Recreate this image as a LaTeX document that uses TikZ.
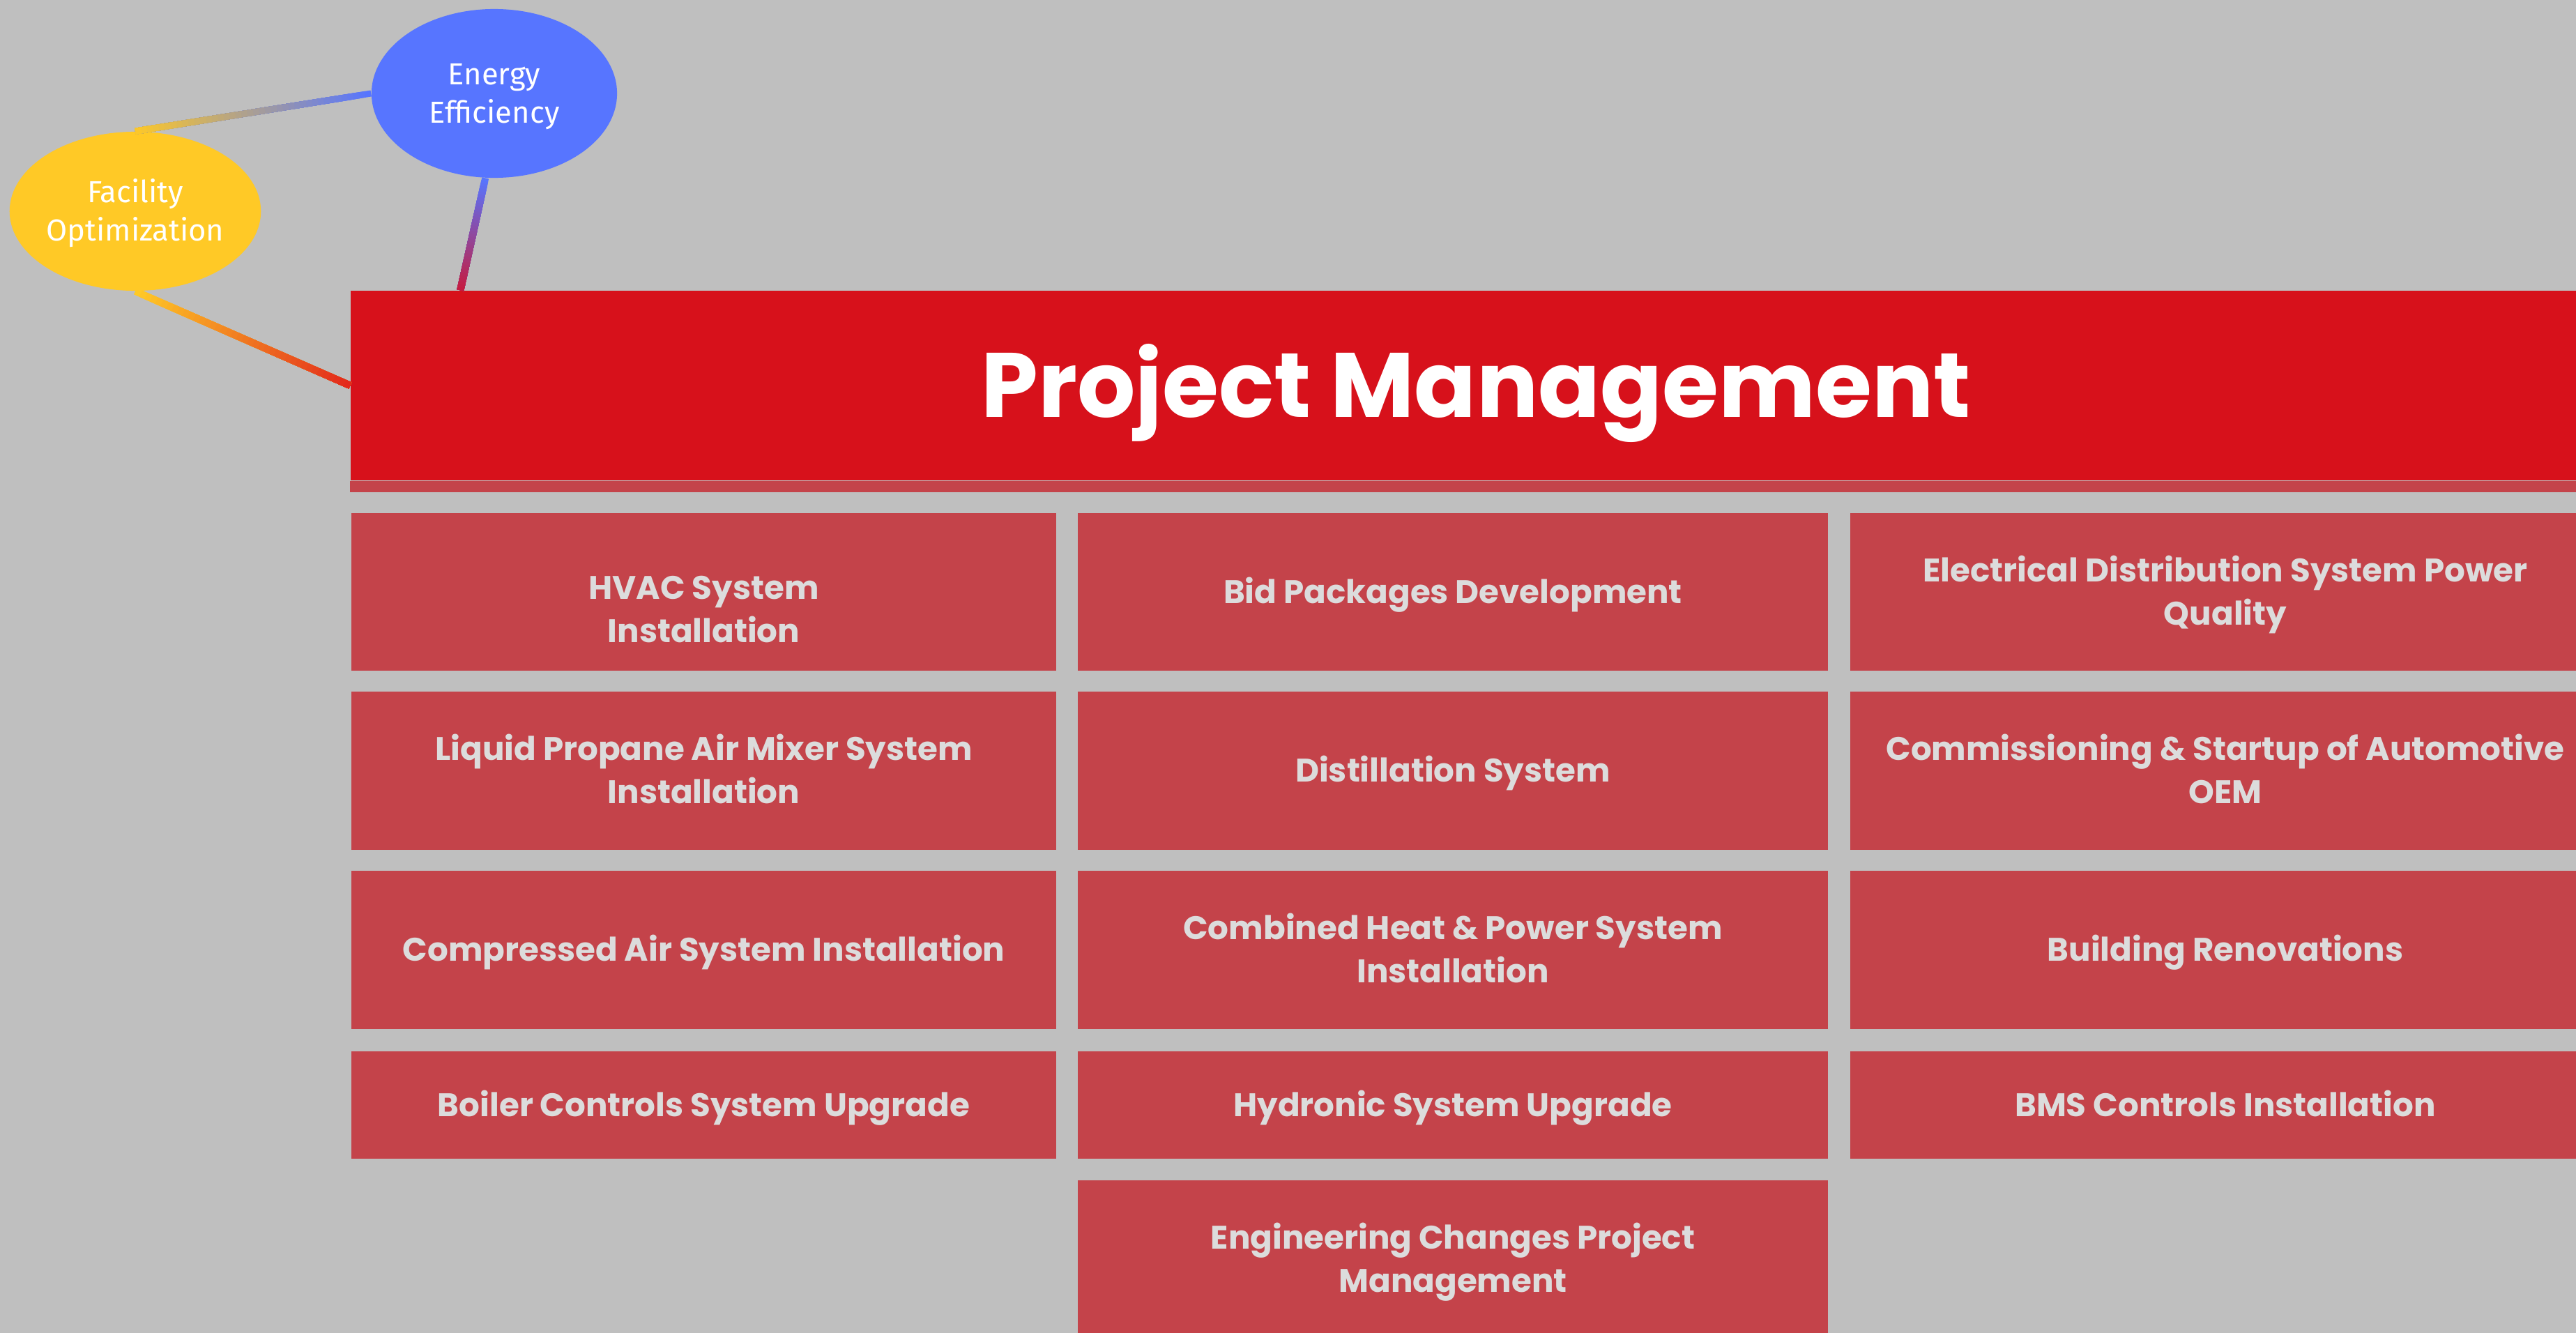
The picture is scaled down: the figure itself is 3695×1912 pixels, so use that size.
\documentclass[tikz,border=0pt]{standalone}
\usepackage{fontspec}
\setmainfont{Poppins}
\newfontfamily\ovalfont{Fira Sans}
\usetikzlibrary{shapes.geometric,calc}
\definecolor{bggray}{HTML}{BFBFBF}
\definecolor{pmred}{HTML}{D7111B}
\definecolor{boxred}{HTML}{C4434A}
\definecolor{boxtext}{HTML}{DCDCDC}
\definecolor{effblue}{HTML}{5775FF}
\definecolor{facyellow}{HTML}{FFC926}
\definecolor{linkred}{HTML}{C81A3C}
\definecolor{linkorange}{HTML}{E2261C}

\begin{document}
\begin{tikzpicture}[x=0.01cm,y=-0.01cm,
    lines/.style={execute at begin node={\rule[-0.35em]{0pt}{\dimexpr1.4em+#1\relax}}},
    oval/.style={ellipse,fill=#1,text=white,inner sep=0pt,align=center,lines=15.6pt,
        font=\ovalfont\fontsize{12.4}{15.6}\selectfont},
    task/.style={rectangle,fill=boxred,text=boxtext,inner sep=0pt,align=center,lines=0pt,
        minimum width=10.76cm,minimum height=2.26cm,
        font=\bfseries\fontsize{13.3}{17.6}\selectfont},
    twoline/.style={lines=17.6pt},
    narrow/.style={minimum width=10.11cm},
    short/.style={minimum height=1.54cm}]
            \useasboundingbox (0,0) rectangle (3695,1912);
            \fill[bggray] (0,0) rectangle (3695,1912);
            \node[oval=effblue,minimum width=3.52cm,minimum height=2.42cm] (ee) at (709,134) {Energy\\Efficiency};
            \node[oval=facyellow,minimum width=3.50cm,minimum height=2.28cm] (fo) at (194,303) {Facility\\Optimization};
            \node[rectangle,fill=pmred,text=white,minimum width=32.26cm,minimum height=2.72cm,inner sep=0pt,lines=0pt,
                font=\bfseries\fontsize{37.3}{40}\selectfont] (pm) at (2117,553) {Project Management};
            \fill[boxred] (pm.south west) rectangle ++(3226,16);
            \coordinate (pmtop) at ($(pm.north west)+(158,0)$);
            \foreach \i in {0,...,39} {
                \pgfmathsetmacro\p{100-2.5*\i}
                \draw[line width=0.09cm,color=effblue!\p!facyellow] ($(ee.west)!\i/40!(fo.north)$) -- (fo.north);
                \draw[line width=0.1cm,color=effblue!\p!linkred] ($(ee.264)!\i/40!(pmtop)$) -- (pmtop);
                \draw[line width=0.1cm,color=facyellow!\p!linkorange] ($(fo.south)!\i/40!(pm.west)$) -- (pm.west);
            }
            \node[task,narrow,lines=17.6pt+0.5cm] (hvac) at (1009.5,849) {HVAC System\\Installation};
            \node[task] (bid) at (2084,849) {Bid Packages Development};
            \node[task,twoline] (elec) at (3192,849) {Electrical Distribution System Power\\Quality};
            \node[task,narrow,twoline] (lpg) at (1009.5,1105.5) {Liquid Propane Air Mixer System\\Installation};
            \node[task] (dist) at (2084,1105.5) {Distillation System};
            \node[task,twoline] (oem) at (3192,1105.5) {Commissioning \& Startup of Automotive\\OEM};
            \node[task,narrow] (air) at (1009.5,1362.5) {Compressed Air System Installation};
            \node[task,twoline] (chp) at (2084,1362.5) {Combined Heat \& Power System\\Installation};
            \node[task] (reno) at (3192,1362.5) {Building Renovations};
            \node[task,narrow,short] (boil) at (1009.5,1585) {Boiler Controls System Upgrade};
            \node[task,short] (hydro) at (2084,1585) {Hydronic System Upgrade};
            \node[task,short] (bms) at (3192,1585) {BMS Controls Installation};
            \node[task,twoline] (eng) at (2084,1806) {Engineering Changes Project\\Management};
\end{tikzpicture}
\end{document}
